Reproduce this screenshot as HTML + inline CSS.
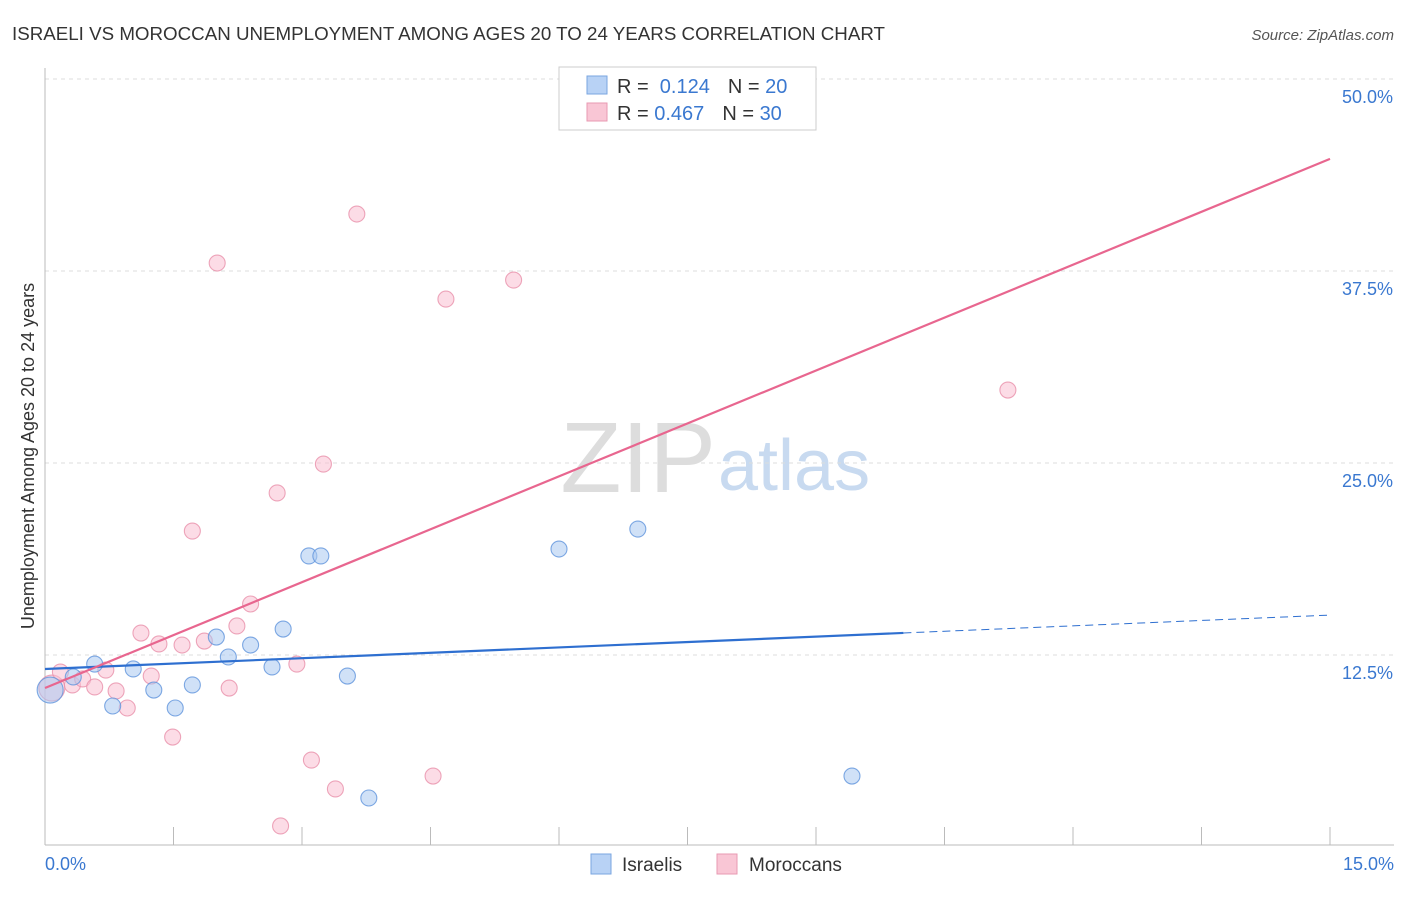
<!DOCTYPE html>
<html><head><meta charset="utf-8"><style>
body{margin:0;background:#fff;font-family:"Liberation Sans",sans-serif}
svg text{font-family:"Liberation Sans",sans-serif}
</style></head><body>
<svg id="c" width="1406" height="892">
<text x="12" y="40" font-size="18" fill="#333" textLength="873" lengthAdjust="spacingAndGlyphs">ISRAELI VS MOROCCAN UNEMPLOYMENT AMONG AGES 20 TO 24 YEARS CORRELATION CHART</text>
<text x="1394" y="40" font-size="15" fill="#555" text-anchor="end" font-style="italic">Source: ZipAtlas.com</text>
<text x="716" y="492" font-size="100" fill="#ddd" text-anchor="end" font-family="Liberation Serif">ZIP</text>
<text x="718" y="490" font-size="72" fill="#c8daf0">atlas</text>
<text x="34" y="456" font-size="18" fill="#333" text-anchor="middle" transform="rotate(-90 34 456)">Unemployment Among Ages 20 to 24 years</text>
<g id="grid"></g><g id="marks"></g>
<rect x="559" y="67" width="257" height="63" fill="#fff" stroke="#ccc"/>
<rect x="587" y="76" width="20" height="18" fill="#b8d2f5" stroke="#7aa6e0"/>
<rect x="587" y="103" width="20" height="18" fill="#f9c6d5" stroke="#e899b2"/>
<text x="617" y="93" font-size="20" fill="#333">R = <tspan fill="#3a78d0">&#160;0.124</tspan><tspan dx="18">N = </tspan><tspan fill="#3a78d0">20</tspan></text>
<text x="617" y="120" font-size="20" fill="#333">R = <tspan fill="#3a78d0">0.467</tspan><tspan dx="18">N = </tspan><tspan fill="#3a78d0">30</tspan></text>
<rect x="591" y="854" width="20" height="20" fill="#b8d2f5" stroke="#7aa6e0"/>
<text x="622" y="871" font-size="19" fill="#333">Israelis</text>
<rect x="717" y="854" width="20" height="20" fill="#f9c6d5" stroke="#e899b2"/>
<text x="749" y="871" font-size="19" fill="#333">Moroccans</text>
<text x="45" y="870" font-size="18" fill="#3a78d0">0.0%</text>
<text x="1394" y="870" font-size="18" fill="#3a78d0" text-anchor="end">15.0%</text>
</svg>
<script>
const yTicks=[12.5,25,37.5,50];
const yTickLabels=["12.5%","25.0%","37.5%","50.0%"];
const israeliX=[0.06,0.33,0.58,0.79,1.03,1.27,1.52,1.72,2.00,2.14,2.40,2.65,2.78,3.08,3.22,3.53,3.78,6.00,6.92,9.42];
const israeliY=[10.22,11.07,11.91,9.18,11.59,10.22,9.05,10.55,13.67,12.37,13.15,11.72,14.19,18.95,18.95,11.13,3.19,19.40,20.70,4.62];
const moroccanX=[0.08,0.18,0.32,0.44,0.58,0.71,0.83,0.96,1.12,1.24,1.33,1.49,1.60,1.72,1.86,2.01,2.15,2.24,2.40,2.71,2.75,2.94,3.11,3.25,3.39,3.64,4.53,4.68,5.47,11.24];
const moroccanY=[10.35,11.39,10.55,10.94,10.42,11.52,10.16,9.05,13.93,11.13,13.22,7.16,13.15,20.57,13.41,38.02,10.35,14.39,15.82,23.05,1.37,11.91,5.66,24.93,3.78,41.21,4.62,35.67,36.91,29.75];
const israeliTrend=[11.59,15.1];
const moroccanTrend=[10.35,44.8];
const xs=v=>45+v/15*1285, ys=v=>847-v/12.5*192;
const NS="http://www.w3.org/2000/svg";
const grid=document.getElementById('grid'), marks=document.getElementById('marks');
function mk(tag,at,parent){const e=document.createElementNS(NS,tag);for(const k in at)e.setAttribute(k,at[k]);parent.appendChild(e);return e;}
yTicks.forEach((t,i)=>{
 const l=mk('line',{x1:45,x2:1394,y1:ys(t),y2:ys(t),stroke:'#ddd','stroke-dasharray':'4 4'},grid);
 
 
 const tx=mk('text',{x:1393,y:ys(t)+24,'font-size':18,fill:'#3a78d0','text-anchor':'end'},grid);
 tx.textContent=yTickLabels[i];
 
 
});
const ax=mk('line',{x1:45,x2:45,y1:68,y2:845,stroke:'#bbb'},grid);


const bx=mk('line',{x1:45,x2:1394,y1:845,y2:845,stroke:'#bbb'},grid);


for(let i=0;i<=10;i++){const t=mk('line',{x1:xs(i*1.5),x2:xs(i*1.5),y1:827,y2:845,stroke:'#bbb'},grid);
 
 }
function pts(X,Y,fill,stroke,name){X.forEach((x,i)=>{
 const c=mk('circle',{cx:xs(x),cy:ys(Y[i]),r:i==0?13:8,fill:fill,'fill-opacity':0.55,stroke:stroke,'stroke-width':1.1,'stroke-opacity':0.8},marks);
 
 });}
pts(moroccanX,moroccanY,'#f9c0d2','#e890aa','moroccan-point');
pts(israeliX,israeliY,'#aac8f0','#5f93dc','israeli-point');
const bxEnd=10.02, bMid=israeliTrend[0]+(israeliTrend[1]-israeliTrend[0])*bxEnd/15;
const l1=mk('line',{x1:xs(0),y1:ys(israeliTrend[0]),x2:xs(bxEnd),y2:ys(bMid),stroke:'#2e6fd0','stroke-width':2.2},marks);


const l2=mk('line',{x1:xs(bxEnd),y1:ys(bMid),x2:xs(15),y2:ys(israeliTrend[1]),stroke:'#2e6fd0','stroke-width':1,'stroke-dasharray':'8 5'},marks);


const l3=mk('line',{x1:xs(0),y1:ys(moroccanTrend[0]),x2:xs(15),y2:ys(moroccanTrend[1]),stroke:'#e8668f','stroke-width':2.2},marks);


</script>
</body></html>
